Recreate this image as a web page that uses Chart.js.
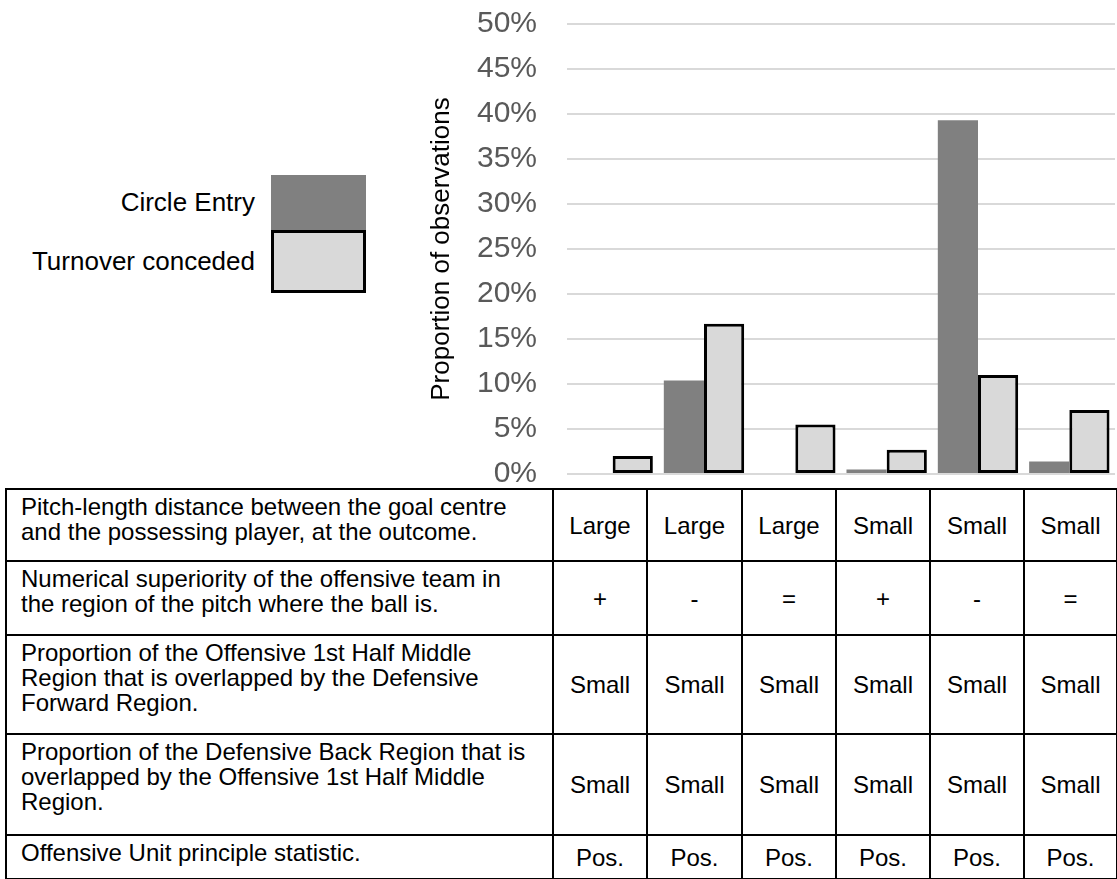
<!DOCTYPE html>
<html>
<head>
<meta charset="utf-8">
<title>Circle entry and turnover conceded</title>
<script src="https://cdn.jsdelivr.net/npm/chart.js@4.4.0/dist/chart.umd.min.js"></script>
<style>
  body { margin: 0; width: 1117px; height: 879px; position: relative; overflow: hidden; background: #fff;
         font-family: 'Liberation Sans', Arial, sans-serif; color: #000; }
  #chartBox { position: absolute; left: 400px; top: -21px; width: 717px; height: 540px; }
  #legend { position: absolute; left: 0; top: 0; }
  .legend-item { position: absolute; left: 0; width: 366px; display: flex; align-items: center; font-size: 26px; }
  .legend-item:nth-child(1) { top: 175px; height: 55px; }
  .legend-item:nth-child(2) { top: 230px; height: 63px; }
  .legend-item span { width: 255px; text-align: right; white-space: nowrap; }
  .legend-item i { position: absolute; left: 271px; top: 0; width: 95px; height: 100%; box-sizing: border-box; }
  #factorTable { position: absolute; left: 5px; top: 488px; width: 1111px; border-collapse: collapse; table-layout: fixed;
                 font-size: 24px; line-height: 25px; background: #fff; }
  #factorTable td { border: 2px solid #000; padding: 0; }
  #factorTable td.head { vertical-align: top; text-align: left; white-space: nowrap; padding: 4px 0 0 14px; }
  #factorTable td.val { vertical-align: middle; text-align: center; }
  #factorTable tr:nth-child(1) { height: 72px; }
  #factorTable tr:nth-child(2) { height: 74px; }
  #factorTable tr:nth-child(3) { height: 99px; }
  #factorTable tr:nth-child(4) { height: 101px; }
  #factorTable tr:nth-child(5) { height: 44px; }
</style>
</head>
<body>
<div id="legend"></div>
<div id="chartBox"><canvas id="outcomeChart" width="717" height="540"></canvas></div>
<table id="factorTable">
  <colgroup>
    <col style="width:547px"><col style="width:94px"><col style="width:95px"><col style="width:94px">
    <col style="width:94px"><col style="width:94px"><col style="width:93px">
  </colgroup>
  <tbody></tbody>
</table>

<script>
// table rows under the chart (one column per bar group)
const distance = ['Large', 'Large', 'Large', 'Small', 'Small', 'Small'];
const superiority = ['+', '-', '=', '+', '-', '='];
const overlapForward = ['Small', 'Small', 'Small', 'Small', 'Small', 'Small'];
const overlapBack = ['Small', 'Small', 'Small', 'Small', 'Small', 'Small'];
const unitStatistic = ['Pos.', 'Pos.', 'Pos.', 'Pos.', 'Pos.', 'Pos.'];

const rowHeaders = [
    'Pitch-length distance between the goal centre\nand the possessing player, at the outcome.',
    'Numerical superiority of the offensive team in\nthe region of the pitch where the ball is.',
    'Proportion of the Offensive 1st Half Middle\nRegion that is overlapped by the Defensive\nForward Region.',
    'Proportion of the Defensive Back Region that is\noverlapped by the Offensive 1st Half Middle\nRegion.',
    'Offensive Unit principle statistic.'
];

// bar values, % of observations
const circleEntry = [0, 10.4, 0, 0.5, 39.3, 1.4];
const turnoverConceded = [2.0, 16.7, 5.5, 2.7, 11.0, 7.1];

const categories = distance.map((d, i) => d + ' ' + superiority[i]);
const yTicks = { min: 0, max: 50, step: 5 };

const FONT = "'Liberation Sans', Arial, sans-serif";

function buildTable() {
    const rows = [distance, superiority, overlapForward, overlapBack, unitStatistic];
    const tbody = document.querySelector('#factorTable tbody');
    rows.forEach(function(values, r) {
        const tr = document.createElement('tr');
        const head = document.createElement('td');
        head.className = 'head';
        head.innerHTML = rowHeaders[r].split('\n').join('<br>');
        tr.appendChild(head);
        values.forEach(function(v) {
            const td = document.createElement('td');
            td.className = 'val';
            td.textContent = v;
            tr.appendChild(td);
        });
        tbody.appendChild(tr);
    });
}

function buildLegend(chart) {
    const box = document.getElementById('legend');
    chart.data.datasets.forEach(function(ds) {
        const item = document.createElement('div');
        item.className = 'legend-item';
        const label = document.createElement('span');
        label.textContent = ds.label;
        const swatch = document.createElement('i');
        swatch.style.background = ds.backgroundColor;
        if (ds.borderWidth) swatch.style.border = ds.borderWidth + 'px solid ' + ds.borderColor;
        item.appendChild(label);
        item.appendChild(swatch);
        box.appendChild(item);
    });
}

function drawChart() {
    const ctx = document.getElementById('outcomeChart').getContext('2d');
    return new Chart(ctx, {
        type: 'bar',
        data: {
            labels: categories,
            datasets: [{
                label: 'Circle Entry',
                data: circleEntry,
                backgroundColor: '#808080',
                borderWidth: 0
            }, {
                label: 'Turnover conceded',
                data: turnoverConceded,
                backgroundColor: '#d9d9d9',
                borderColor: '#000000',
                borderWidth: 3,
                borderSkipped: false
            }]
        },
        options: {
            responsive: false,
            animation: false,
            categoryPercentage: 0.88,
            barPercentage: 1.0,
            layout: { padding: { top: 23, bottom: 15, left: 0, right: 2 } },
            plugins: {
                legend: { display: false },
                tooltip: { enabled: false }
            },
            scales: {
                x: { display: false },
                y: {
                    min: yTicks.min,
                    max: yTicks.max,
                    ticks: {
                        stepSize: yTicks.step,
                        padding: 30,
                        color: '#595959',
                        font: { family: FONT, size: 30, lineHeight: 1 },
                        callback: v => v + '%'
                    },
                    grid: { color: '#d9d9d9', lineWidth: 2, drawTicks: false },
                    border: { display: false },
                    title: {
                        display: true,
                        text: 'Proportion of observations',
                        color: '#000000',
                        font: { family: FONT, size: 26 },
                        padding: { top: 26, bottom: 0 }
                    },
                    afterFit: function(scale) { scale.width = 167; }
                }
            }
        }
    });
}

buildTable();
const chart = drawChart();
buildLegend(chart);
</script>
</body>
</html>
